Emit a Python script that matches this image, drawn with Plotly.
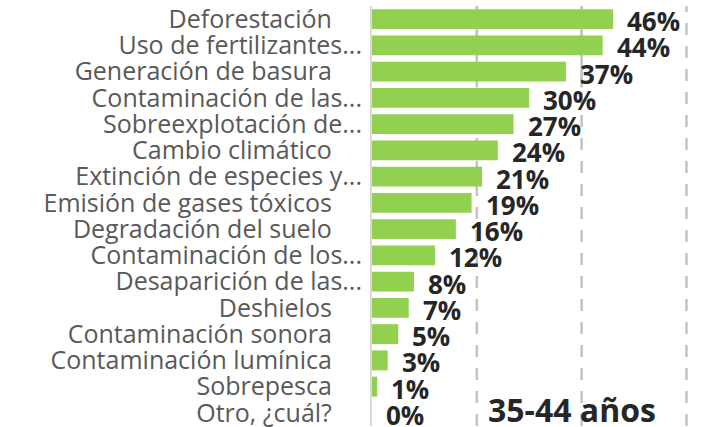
import plotly.graph_objects as go

categories = [
    "Deforestación",
    "Uso de fertilizantes...",
    "Generación de basura",
    "Contaminación de las...",
    "Sobreexplotación de...",
    "Cambio climático",
    "Extinción de especies y...",
    "Emisión de gases tóxicos",
    "Degradación del suelo",
    "Contaminación de los...",
    "Desaparición de las...",
    "Deshielos",
    "Contaminación sonora",
    "Contaminación lumínica",
    "Sobrepesca",
    "Otro, ¿cuál?",
]
values = [46, 44, 37, 30, 27, 24, 21, 19, 16, 12, 8, 7, 5, 3, 1, 0]
value_labels = [f"{v}%" for v in values]
title_text = "35-44 años"
grid_values = [20, 40, 60]

PAD = "\u00a0" * 4 + "\u2009"
ticktext = [c if c.endswith("...") else c + PAD for c in categories]
n = len(categories)

fig = go.Figure()
fig.add_trace(go.Bar(
    x=values, y=list(range(n)), orientation="h",
    marker=dict(color="#92D050", line=dict(width=0)),
    width=0.76, hoverinfo="skip",
))

for i, (v, t) in enumerate(zip(values, value_labels)):
    fig.add_annotation(x=v, y=i, text=f"<b>{t}</b>", showarrow=False,
                       xanchor="left", yanchor="middle", xshift=12, yshift=-2,
                       font=dict(family="Open Sans", size=26, color="#262626"))

for g in grid_values:
    fig.add_shape(type="line", xref="x", yref="paper", x0=g, x1=g, y0=0, y1=1.0,
                  line=dict(color="#C4C4C4", width=2.5, dash="12px,11px"), layer="below")
for g in grid_values[:2]:
    fig.add_shape(type="line", xref="x", yref="y", x0=g, x1=g, y0=-0.5, y1=2.6,
                  line=dict(color="#C4C4C4", width=2.5), layer="below")

fig.add_annotation(xref="paper", yref="paper", x=0.594, y=0.0, text=f"<b>{title_text}</b>",
                   showarrow=False, xanchor="center", yanchor="bottom", yshift=-7,
                   font=dict(family="Open Sans", size=32, color="#262626"))

fig.update_layout(
    width=709, height=427,
    margin=dict(l=372, r=0, t=6, b=1, pad=0, autoexpand=False),
    plot_bgcolor="white", paper_bgcolor="white",
    showlegend=False,
    xaxis=dict(range=[0, 64.3], showgrid=False, zeroline=False, showticklabels=False,
               showline=False, fixedrange=True, automargin=False),
    yaxis=dict(range=[n - 0.5, -0.5], autorange=False,
               tickmode="array", tickvals=list(range(n)), ticktext=ticktext,
               showgrid=False, zeroline=False, ticks="", showline=True, automargin=False,
               linecolor="#D9D9D9", linewidth=2, ticklabelstandoff=3,
               ticklabeloverflow="allow", fixedrange=True,
               tickfont=dict(family="Open Sans", size=25, color="#595959")),
)
fig.write_html("out.html", config={"displayModeBar": False, "staticPlot": True},
               post_script="document.body.style.margin='0';document.body.style.overflow='hidden';")
